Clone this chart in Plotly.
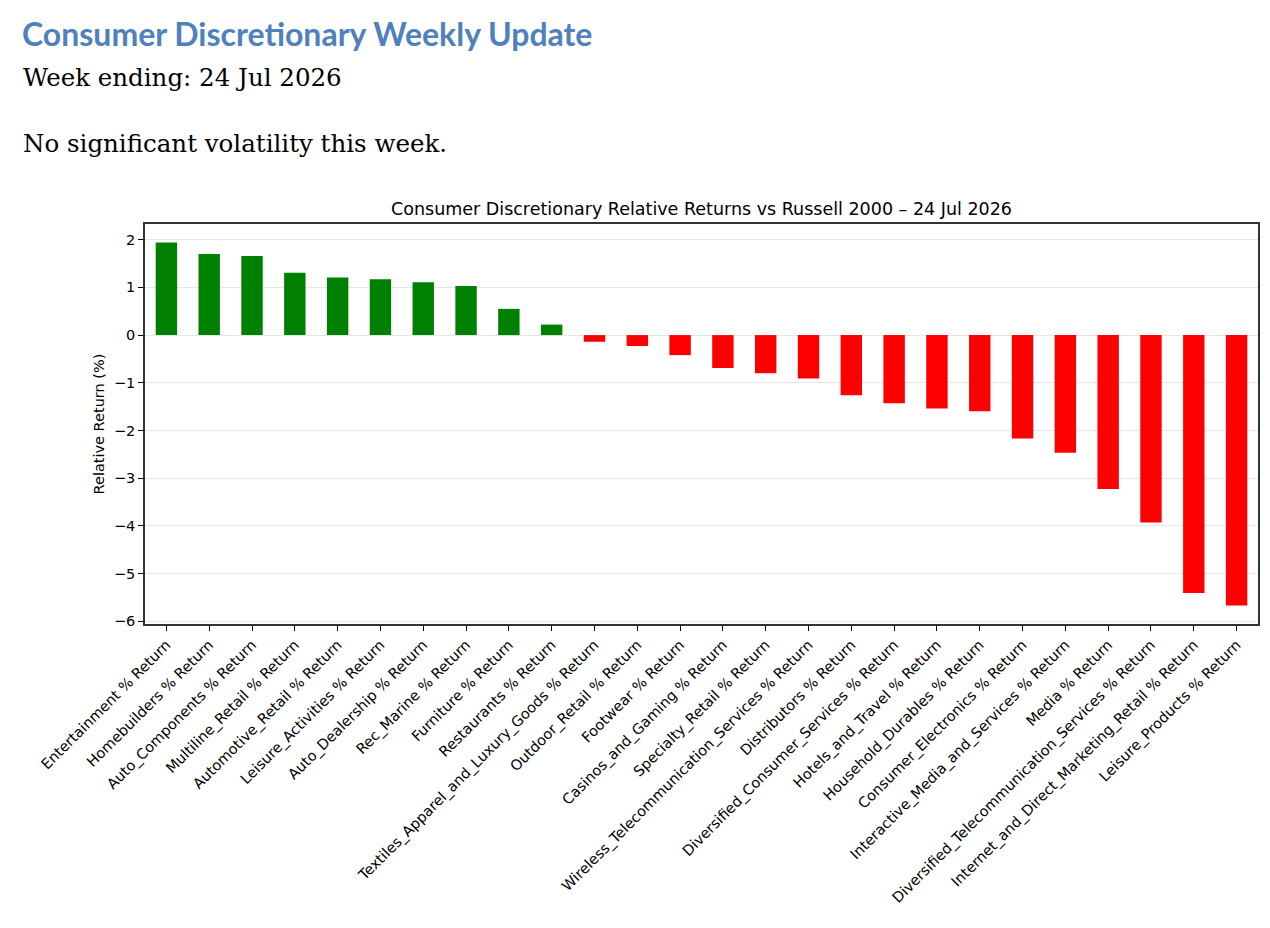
import plotly.graph_objects as go

# sectors and relative returns (%) vs Russell 2000, week ending 24 Jul 2026
sectors = [
    "Entertainment % Return", "Homebuilders % Return", "Auto_Components % Return",
    "Multiline_Retail % Return", "Automotive_Retail % Return", "Leisure_Activities % Return",
    "Auto_Dealership % Return", "Rec_Marine % Return", "Furniture % Return",
    "Restaurants % Return", "Textiles_Apparel_and_Luxury_Goods % Return",
    "Outdoor_Retail % Return", "Footwear % Return", "Casinos_and_Gaming % Return",
    "Specialty_Retail % Return", "Wireless_Telecommunication_Services % Return",
    "Distributors % Return", "Diversified_Consumer_Services % Return",
    "Hotels_and_Travel % Return", "Household_Durables % Return",
    "Consumer_Electronics % Return", "Interactive_Media_and_Services % Return",
    "Media % Return", "Diversified_Telecommunication_Services % Return",
    "Internet_and_Direct_Marketing_Retail % Return", "Leisure_Products % Return",
]
returns = [
    1.94, 1.70, 1.66, 1.31, 1.21, 1.17, 1.11, 1.03, 0.55, 0.22,
    -0.14, -0.23, -0.42, -0.69, -0.80, -0.91, -1.26, -1.43, -1.54, -1.60,
    -2.17, -2.47, -3.23, -3.93, -5.41, -5.67,
]
y_ticks = [2, 1, 0, -1, -2, -3, -4, -5, -6]

colors = ["green" if v >= 0 else "red" for v in returns]

fig = go.Figure(go.Bar(x=sectors, y=returns, marker_color=colors, width=0.5,
                       marker_line_width=0))

# page has an 8px body margin, so figure is a bit smaller and coords shifted
OFF = 8
W, H = 1270 - 2 * OFF, 928 - 2 * OFF
# plot area in page pixels: x 145..1260, y 224..624
L, R, T, B = 145 - OFF, 1260 - OFF, 224 - OFF, 624 - OFF
def px(x, y):
    return (x - OFF - L) / (R - L), (B - (y - OFF)) / (B - T)

anns = [
    ("Consumer Discretionary Weekly Update", 20, 33, dict(family="Lato", size=32, color="#4F81BD"), True),
    ("Week ending: 24 Jul 2026", 21, 77, dict(family="DejaVu Serif", size=24.5, color="black"), False),
    ("No significant volatility this week.", 21, 143, dict(family="DejaVu Serif", size=24.5, color="black"), False),
]
annotations = []
for text, x, y, font, bold in anns:
    ax, ay = px(x, y)
    annotations.append(dict(text="<b>%s</b>" % text if bold else text, x=ax, y=ay,
                            xref="paper", yref="paper", xanchor="left", yanchor="middle",
                            showarrow=False, font=font))
tx, ty = px(703, 209)
annotations.append(dict(text="Consumer Discretionary Relative Returns vs Russell 2000 – 24 Jul 2026",
                        x=tx, y=ty, xref="paper", yref="paper", xanchor="center", yanchor="middle",
                        showarrow=False, font=dict(family="DejaVu Sans", size=17.5, color="black")))

fig.update_layout(
    width=W, height=H,
    margin=dict(l=L, r=W - R, t=T, b=H - B),
    paper_bgcolor="white", plot_bgcolor="white",
    showlegend=False,
    font=dict(family="DejaVu Sans", size=14.5, color="black"),
    annotations=annotations,
)
fig.update_xaxes(range=[-0.5, len(sectors) - 0.5], tickangle=-45, ticks="outside",
                 ticklen=5, tickcolor="black", showline=True, linecolor="#333333",
                 linewidth=1.5, mirror=True, showgrid=False,
                 tickfont=dict(family="DejaVu Sans", size=14.5))
fig.update_yaxes(range=[-6.06, 2.33], tickvals=y_ticks, ticks="outside", ticklen=5,
                 tickcolor="black", showline=True, linecolor="#333333", linewidth=1.5,
                 mirror=True, showgrid=True, gridcolor="#e6e6e6", zeroline=False,
                 title=dict(text="Relative Return (%)", font=dict(size=14.5), standoff=6),
                 tickfont=dict(family="DejaVu Sans", size=14.5))

fig.write_html("out.html")
